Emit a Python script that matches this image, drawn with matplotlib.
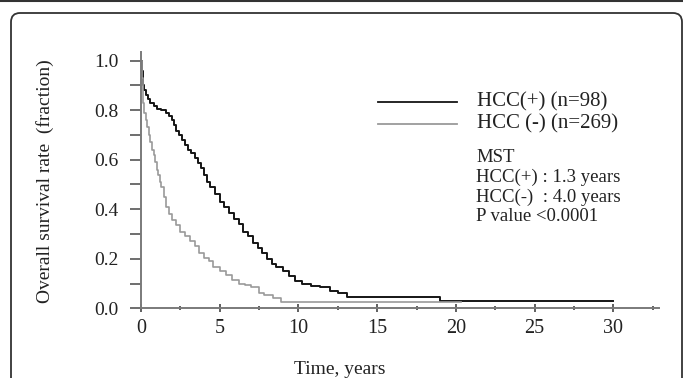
import matplotlib
matplotlib.use("Agg")
import matplotlib.pyplot as plt
from matplotlib.lines import Line2D
from matplotlib.patches import FancyBboxPatch
from matplotlib.transforms import IdentityTransform
from matplotlib.ticker import MultipleLocator

# ==========================
# DATA
# ==========================

# HCC(+) curve, black
hcc_pos_t = [0, 0.05, 0.1, 0.15, 0.2, 0.3, 0.45, 0.6, 0.8, 1.0, 1.3, 1.6, 1.8,
             1.95, 2.1, 2.25, 2.4, 2.6, 2.8, 3.0, 3.2, 3.4, 3.6, 3.8, 4.0, 4.2,
             4.4, 4.7, 5.0, 5.3, 5.6, 5.9, 6.2, 6.5, 6.8, 7.1, 7.4, 7.7, 8.0,
             8.3, 8.6, 9.0, 9.4, 9.8, 10.2, 10.8, 11.4, 12.0, 12.5, 13.1, 19.0,
             30.0]
hcc_pos_s = [1.0, 0.96, 0.93, 0.90, 0.88, 0.86, 0.845, 0.83, 0.815, 0.805, 0.80,
             0.79, 0.775, 0.76, 0.74, 0.715, 0.70, 0.68, 0.66, 0.64, 0.625, 0.605,
             0.585, 0.565, 0.54, 0.51, 0.49, 0.46, 0.43, 0.41, 0.385, 0.36, 0.34,
             0.31, 0.29, 0.265, 0.245, 0.225, 0.20, 0.18, 0.165, 0.15, 0.13, 0.11,
             0.10, 0.09, 0.085, 0.07, 0.06, 0.044, 0.03, 0.03]

# HCC(-) curve, gray
hcc_neg_t = [0, 0.05, 0.1, 0.15, 0.2, 0.3, 0.4, 0.5, 0.6, 0.7, 0.8, 0.9, 1.0,
             1.1, 1.2, 1.3, 1.45, 1.6, 1.8, 2.0, 2.2, 2.5, 2.8, 3.1, 3.4, 3.7,
             4.0, 4.3, 4.6, 5.0, 5.4, 5.8, 6.2, 6.6, 7.0, 7.5, 7.8, 8.4, 8.9, 20.3]
hcc_neg_s = [1.0, 0.93, 0.88, 0.83, 0.79, 0.76, 0.73, 0.70, 0.67, 0.64, 0.62,
             0.59, 0.56, 0.54, 0.51, 0.49, 0.45, 0.41, 0.38, 0.355, 0.335, 0.31,
             0.29, 0.27, 0.25, 0.225, 0.205, 0.19, 0.165, 0.15, 0.135, 0.115,
             0.10, 0.094, 0.087, 0.06, 0.052, 0.04, 0.027, 0.027]

x_ticks = [0, 5, 10, 15, 20, 25, 30]
y_ticks = [0.0, 0.2, 0.4, 0.6, 0.8, 1.0]

legend_labels = ["HCC(+) (n=98)", "HCC (-) (n=269)"]
mst_lines = ["MST", "HCC(+) : 1.3 years", "HCC(-)  : 4.0 years", "P value <0.0001"]

# ==========================
# STYLE
# ==========================

BLACK = "#151515"
GRAY = "#9a9a9a"
AXIS_COLOR = "#7a7a7a"
TEXT_COLOR = "#222222"

plt.rcParams["font.family"] = ["Liberation Serif", "DejaVu Serif"]

W, H = 683, 378
fig = plt.figure(figsize=(W / 100, H / 100), dpi=100)

# frame of the page
fig.add_artist(Line2D([0, 1], [1 - 1 / H, 1 - 1 / H], transform=fig.transFigure,
                      color="#333333", lw=1.5))
fig.add_artist(FancyBboxPatch((11, -30), 671, H - 13 + 30,
                              boxstyle="round,pad=0,rounding_size=9",
                              transform=IdentityTransform(), fill=False,
                              edgecolor="#333333", lw=1.3))

ax = fig.add_axes([141 / W, 69.7 / H, (659 - 141) / W, (308.3 - 51.7) / H])

ax.plot(hcc_pos_t, hcc_pos_s, drawstyle="steps-post", color=BLACK, lw=1.4)
ax.plot(hcc_neg_t, hcc_neg_s, drawstyle="steps-post", color=GRAY, lw=1.2)

ax.set_xlim(0, 32.9)
ax.set_ylim(0, 1.036)

for s in ["top", "right"]:
    ax.spines[s].set_visible(False)
for s in ["left", "bottom"]:
    ax.spines[s].set_color(AXIS_COLOR)
    ax.spines[s].set_linewidth(1.4)

ax.set_xticks(x_ticks)
ax.set_xticklabels([str(v) for v in x_ticks])
ax.xaxis.set_minor_locator(MultipleLocator(2.5))
ax.set_yticks(y_ticks)
ax.set_yticklabels([f"{v:.1f}" for v in y_ticks])
ax.yaxis.set_minor_locator(MultipleLocator(0.1))

ax.tick_params(axis="x", which="major", direction="inout", length=6,
               width=1.2, color="#444444", labelsize=14.5, pad=5,
               labelcolor=TEXT_COLOR)
ax.tick_params(axis="x", which="minor", direction="inout", length=3.5,
               width=1.2, color="#444444")
ax.tick_params(axis="y", which="both", direction="out", length=8,
               width=1.2, color="#555555", labelsize=14, pad=8,
               labelcolor=TEXT_COLOR)

fig.text(45 / W, 1 - 181 / H, "Overall survival rate  (fraction)",
         rotation=90, ha="center", va="center", fontsize=14, color=TEXT_COLOR)
fig.text(340 / W, 1 - 369 / H, "Time, years", ha="center", va="center",
         fontsize=14, color=TEXT_COLOR)

# legend, drawn by hand
leg_y = [101.5, 123.5]
leg_colors = [BLACK, GRAY]
for yy, col, lab in zip(leg_y, leg_colors, legend_labels):
    fig.add_artist(Line2D([378 / W, 457 / W], [1 - yy / H, 1 - yy / H],
                          transform=fig.transFigure, color=col, lw=1.3))
    fig.text(477 / W, 1 - yy / H, lab, ha="left", va="center",
             fontsize=15, color=TEXT_COLOR)

for i, line in enumerate(mst_lines):
    fig.text(476 / W, 1 - (158 + 19.5 * i) / H, line, ha="left", va="center",
             fontsize=13.5, color=TEXT_COLOR)

fig.savefig("out.png", dpi=100)
